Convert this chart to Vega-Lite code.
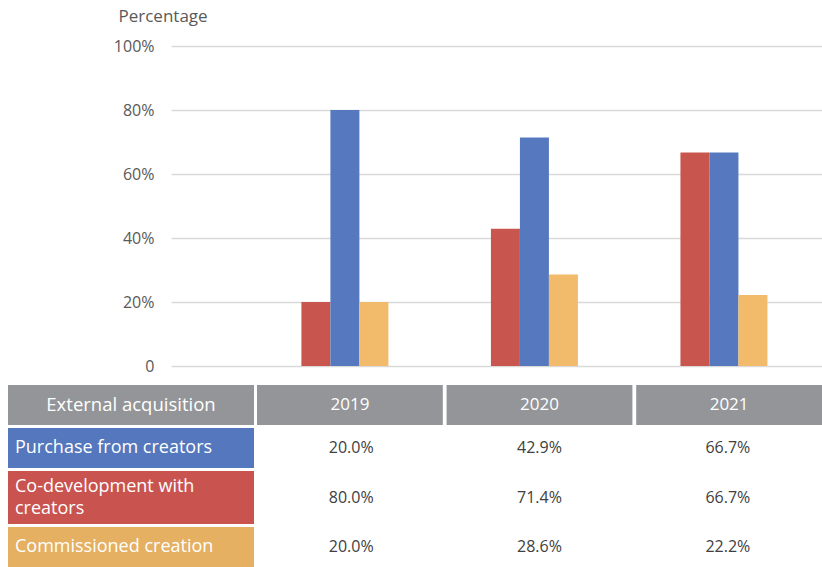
{
  "$schema": "https://vega.github.io/schema/vega-lite/v6.json",
  "padding": {"left": 8, "top": 7, "right": 0, "bottom": 0},
  "autosize": {"type": "pad"},
  "background": "white",
  "config": {"view": {"stroke": null}, "font": "Open Sans"},
  "resolve": {"scale": {"color": "independent", "x": "independent", "y": "independent"}},
  "datasets": {
    "bars": [
      {"year": "2019", "series": "Purchase from creators", "value": 20.0},
      {"year": "2019", "series": "Co-development with creators", "value": 80.0},
      {"year": "2019", "series": "Commissioned creation", "value": 20.0},
      {"year": "2020", "series": "Purchase from creators", "value": 42.9},
      {"year": "2020", "series": "Co-development with creators", "value": 71.4},
      {"year": "2020", "series": "Commissioned creation", "value": 28.6},
      {"year": "2021", "series": "Purchase from creators", "value": 66.7},
      {"year": "2021", "series": "Co-development with creators", "value": 66.7},
      {"year": "2021", "series": "Commissioned creation", "value": 22.2}
    ],
    "rows": [
      {"row": "External acquisition", "label": "External acquisition"},
      {"row": "Purchase from creators", "label": "Purchase from creators"},
      {"row": "Co-development with creators", "label": "Co-development with\ncreators"},
      {"row": "Commissioned creation", "label": "Commissioned creation"}
    ],
    "cells": [
      {"year": "2019", "row": "External acquisition", "text": "2019"},
      {"year": "2020", "row": "External acquisition", "text": "2020"},
      {"year": "2021", "row": "External acquisition", "text": "2021"},
      {"year": "2019", "row": "Purchase from creators", "text": "20.0%"},
      {"year": "2020", "row": "Purchase from creators", "text": "42.9%"},
      {"year": "2021", "row": "Purchase from creators", "text": "66.7%"},
      {"year": "2019", "row": "Co-development with creators", "text": "80.0%"},
      {"year": "2020", "row": "Co-development with creators", "text": "71.4%"},
      {"year": "2021", "row": "Co-development with creators", "text": "66.7%"},
      {"year": "2019", "row": "Commissioned creation", "text": "20.0%"},
      {"year": "2020", "row": "Commissioned creation", "text": "28.6%"},
      {"year": "2021", "row": "Commissioned creation", "text": "22.2%"}
    ]
  },
  "vconcat": [
    {
      "hconcat": [
        {
          "width": 163, "height": 320,
          "data": {"values": [{}]},
          "mark": {"type": "text", "text": ""},
          "encoding": {}
        },
        {
          "width": 651, "height": 320,
          "data": {"name": "bars"},
          "mark": {"type": "bar"},
          "encoding": {
            "x": {"field": "year", "type": "nominal", "axis": null,
                  "scale": {"paddingInner": 0.541, "paddingOuter": 0.488, "align": 0.705}},
            "xOffset": {"field": "series", "type": "nominal",
                        "scale": {"domain": ["Purchase from creators", "Co-development with creators", "Commissioned creation"], "paddingInner": 0, "paddingOuter": 0}},
            "y": {"field": "value", "type": "quantitative",
                  "scale": {"domain": [0, 100], "nice": false},
                  "axis": {"values": [0, 20, 40, 60, 80, 100],
                           "labelExpr": "datum.value == 0 ? '0' : datum.value + '%'",
                           "domain": false, "ticks": false, "labelPadding": 17,
                           "labelFontSize": 16, "labelColor": "#595959",
                           "gridColor": "#d9d9d9", "gridWidth": 1.5,
                           "title": "Percentage", "titleAngle": 0, "titleAlign": "left",
                           "titleBaseline": "alphabetic", "titleX": -53, "titleY": -25,
                           "titleFontSize": 17, "titleFontWeight": "normal", "titleColor": "#595959"}},
            "color": {"field": "series", "type": "nominal", "legend": null,
                      "scale": {"domain": ["Purchase from creators", "Co-development with creators", "Commissioned creation"],
                                "range": ["#C9554F", "#5578BE", "#F1BB6B"]}}
          }
        }
      ],
      "spacing": 0, "bounds": "flush",
      "resolve": {"scale": {"color": "independent", "x": "independent", "y": "independent"}}
    },
    {
      "vconcat": [
        {
          "hconcat": [
            {
              "width": 246, "height": 40,
              "data": {"name": "rows"},
              "transform": [{"filter": "datum.row == 'External acquisition'"}],
              "layer": [
                {"mark": {"type": "rect", "color": "#939598"}},
                {"mark": {"type": "text", "align": "center", "baseline": "middle", "fontSize": 18.5, "color": "white"},
                 "encoding": {"text": {"field": "label"}}}
              ]
            },
            {
              "width": 565, "height": 40,
              "data": {"name": "cells"},
              "transform": [{"filter": "datum.row == 'External acquisition'"}],
              "encoding": {
                "x": {"field": "year", "type": "nominal", "axis": null,
                      "scale": {"domain": ["2019", "2020", "2021"], "paddingInner": 0.02, "paddingOuter": 0}}
              },
              "layer": [
                {"mark": {"type": "rect", "color": "#939598"}},
                {"mark": {"type": "text", "align": "center", "baseline": "middle", "fontSize": 17, "color": "white"},
                 "encoding": {"text": {"field": "text"}}}
              ]
            }
          ],
          "spacing": 3, "bounds": "flush",
          "resolve": {"scale": {"x": "independent", "y": "independent"}}
        },
        {
          "hconcat": [
            {
              "width": 246, "height": 40,
              "data": {"name": "rows"},
              "transform": [{"filter": "datum.row == 'Purchase from creators'"}],
              "layer": [
                {"mark": {"type": "rect", "color": "#5577BD"}},
                {"mark": {"type": "text", "align": "left", "baseline": "middle", "fontSize": 18, "color": "white", "dx": 7},
                 "encoding": {"x": {"datum": 0, "type": "quantitative", "scale": {"domain": [0, 1]}, "axis": null},
                              "text": {"field": "label"}}}
              ]
            },
            {
              "width": 565, "height": 40,
              "data": {"name": "cells"},
              "transform": [{"filter": "datum.row == 'Purchase from creators'"}],
              "mark": {"type": "text", "align": "center", "baseline": "middle", "fontSize": 16, "color": "#404040"},
              "encoding": {
                "x": {"field": "year", "type": "nominal", "axis": null,
                      "scale": {"domain": ["2019", "2020", "2021"], "paddingInner": 0.02, "paddingOuter": 0}},
                "text": {"field": "text"}
              }
            }
          ],
          "spacing": 3, "bounds": "flush",
          "resolve": {"scale": {"x": "independent", "y": "independent"}}
        },
        {
          "hconcat": [
            {
              "width": 246, "height": 53,
              "data": {"name": "rows"},
              "transform": [{"filter": "datum.row == 'Co-development with creators'"}],
              "layer": [
                {"mark": {"type": "rect", "color": "#C9534F"}},
                {"mark": {"type": "text", "align": "left", "baseline": "middle", "fontSize": 18, "color": "white", "dx": 7, "dy": -11, "lineBreak": "\n", "lineHeight": 22},
                 "encoding": {"x": {"datum": 0, "type": "quantitative", "scale": {"domain": [0, 1]}, "axis": null},
                              "text": {"field": "label"}}}
              ]
            },
            {
              "width": 565, "height": 53,
              "data": {"name": "cells"},
              "transform": [{"filter": "datum.row == 'Co-development with creators'"}],
              "mark": {"type": "text", "align": "center", "baseline": "middle", "fontSize": 16, "color": "#404040"},
              "encoding": {
                "x": {"field": "year", "type": "nominal", "axis": null,
                      "scale": {"domain": ["2019", "2020", "2021"], "paddingInner": 0.02, "paddingOuter": 0}},
                "text": {"field": "text"}
              }
            }
          ],
          "spacing": 3, "bounds": "flush",
          "resolve": {"scale": {"x": "independent", "y": "independent"}}
        },
        {
          "hconcat": [
            {
              "width": 246, "height": 40,
              "data": {"name": "rows"},
              "transform": [{"filter": "datum.row == 'Commissioned creation'"}],
              "layer": [
                {"mark": {"type": "rect", "color": "#E5B062"}},
                {"mark": {"type": "text", "align": "left", "baseline": "middle", "fontSize": 18, "color": "white", "dx": 7},
                 "encoding": {"x": {"datum": 0, "type": "quantitative", "scale": {"domain": [0, 1]}, "axis": null},
                              "text": {"field": "label"}}}
              ]
            },
            {
              "width": 565, "height": 40,
              "data": {"name": "cells"},
              "transform": [{"filter": "datum.row == 'Commissioned creation'"}],
              "mark": {"type": "text", "align": "center", "baseline": "middle", "fontSize": 16, "color": "#404040"},
              "encoding": {
                "x": {"field": "year", "type": "nominal", "axis": null,
                      "scale": {"domain": ["2019", "2020", "2021"], "paddingInner": 0.02, "paddingOuter": 0}},
                "text": {"field": "text"}
              }
            }
          ],
          "spacing": 3, "bounds": "flush",
          "resolve": {"scale": {"x": "independent", "y": "independent"}}
        }
      ],
      "spacing": 3, "bounds": "full",
      "resolve": {"scale": {"x": "independent", "y": "independent"}}
    }
  ],
  "spacing": 11,
  "bounds": "full"
}
